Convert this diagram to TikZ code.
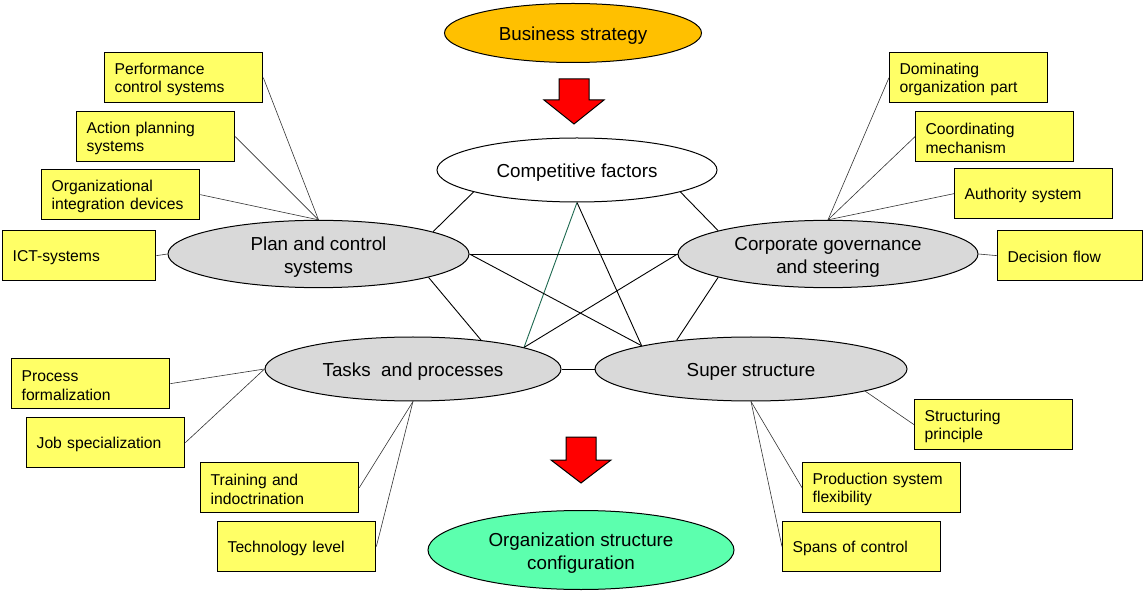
\documentclass[tikz,border=0pt]{standalone}
\usepackage{fontspec}
\setmainfont{Liberation Sans}
\usepackage{tikz}
\usetikzlibrary{shapes.geometric,positioning}
\definecolor{bizorange}{RGB}{255,192,0}
\definecolor{boxyellow}{RGB}{255,255,102}
\definecolor{hubgrey}{RGB}{217,217,217}
\definecolor{mint}{RGB}{92,255,174}
\definecolor{tealline}{RGB}{30,105,80}
\newcommand\hubstrut{\rule{0pt}{20.4pt}}

\begin{document}
\begin{tikzpicture}[x=1pt,y=-1pt,
  hub/.style={ellipse, draw, line width=1pt, inner sep=0pt, align=center,
    font=\fontsize{18.8}{23.3}\selectfont, execute at begin node=\rule{0pt}{19.8pt}},
  factor/.style={rectangle, draw, fill=boxyellow, line width=1.3pt, anchor=north west,
    minimum height=50pt, inner xsep=10pt, text width=138pt, align=left,
    font=\fontsize{15.7}{18.5}\selectfont, execute at begin node=\rule{0pt}{14.8pt}},
  link/.style={line width=0.9pt},
  twig/.style={line width=0.6pt, black!80},
  blockarrow/.style={draw, fill=red, line width=1pt, line join=miter}]
\useasboundingbox (0,0) rectangle (1143,593);
% main ellipses
\node[hub, fill=bizorange, minimum width=257pt, minimum height=59pt] (business) at (573,33) {Business strategy};
\node[hub, fill=white, minimum width=280pt, minimum height=64pt] (compet) at (577,170) {Competitive factors};
\node[hub, fill=hubgrey, minimum width=301pt, minimum height=62pt] (plan) at (318.5,254) {\hubstrut Plan and control\\systems};
\node[hub, fill=hubgrey, minimum width=300pt, minimum height=62pt] (gov) at (828,254) {\hubstrut Corporate governance\\and steering};
\node[hub, fill=hubgrey, minimum width=296pt, minimum height=64pt] (tasks) at (413,369) {Tasks\ \ and processes};
\node[hub, fill=hubgrey, minimum width=312pt, minimum height=64pt] (super) at (751,369) {Super structure};
\node[hub, fill=mint, minimum width=306pt, minimum height=79pt] (config) at (581,550) {\hubstrut Organization structure\\configuration};
% block arrows
\draw[blockarrow] (559,79) -- (589,79) -- (589,100) -- (604,100) -- (574,124) -- (544,100) -- (559,100) -- cycle;
\draw[blockarrow] (566,437) -- (596,437) -- (596,460) -- (611,460) -- (581,483) -- (551,460) -- (566,460) -- cycle;
% factor boxes
\node[factor] (perf) at (104,52) {Performance\\control systems};
\node[factor] (action) at (76,111) {Action planning\\systems};
\node[factor] (integr) at (41,169) {Organizational\\integration devices};
\node[factor, text width=133pt] (ict) at (2,230) {ICT-systems};
\node[factor] (domin) at (889,52) {Dominating\\organization part};
\node[factor] (coord) at (915,111) {Coordinating\\mechanism};
\node[factor] (author) at (954,168) {Authority system};
\node[factor, text width=125pt] (decis) at (997,230) {Decision flow};
\node[factor] (formal) at (11,358) {Process\\formalization};
\node[factor] (jobspec) at (26,417) {Job specialization};
\node[factor] (train) at (200,462) {Training and\\indoctrination};
\node[factor] (techno) at (217,521) {Technology level};
\node[factor] (struct) at (914,399) {Structuring\\principle};
\node[factor] (prodflex) at (802,462) {Production system\\flexibility};
\node[factor] (spans) at (782,521) {Spans of control};
% network between the ellipses
\draw[link] (compet.192.5) -- (plan.11.6);
\draw[link] (compet.-12.4) -- (gov.168.3);
\draw[link, tealline] (compet.south) -- (tasks.11.8);
\draw[link] (compet.south) -- (super.168.3);
\draw[link] (plan.east) -- (gov.west);
\draw[link] (plan.east) -- (super.168.3);
\draw[link] (gov.west) -- (tasks.11.8);
\draw[link] (plan.-12) -- (tasks.23.3);
\draw[link] (gov.-168) -- (super.159.5);
\draw[link] (tasks.east) -- (super.west);
% factors to ellipses
\draw[twig] (perf.east) -- (plan.north);
\draw[twig] (action.east) -- (plan.north);
\draw[twig] (integr.east) -- (plan.north);
\draw[twig] (ict.east) -- (plan.west);
\draw[twig] (domin.west) -- (gov.north);
\draw[twig] (coord.west) -- (gov.north);
\draw[twig] (author.west) -- (gov.north);
\draw[twig] (decis.west) -- (gov.east);
\draw[twig] (formal.east) -- (tasks.west);
\draw[twig] (jobspec.east) -- (tasks.west);
\draw[twig] (train.east) -- (tasks.south);
\draw[twig] (techno.east) -- (tasks.south);
\draw[twig] (struct.west) -- (super.-11.1);
\draw[twig] (prodflex.west) -- (super.south);
\draw[twig] (spans.west) -- (super.south);
\end{tikzpicture}
\end{document}
